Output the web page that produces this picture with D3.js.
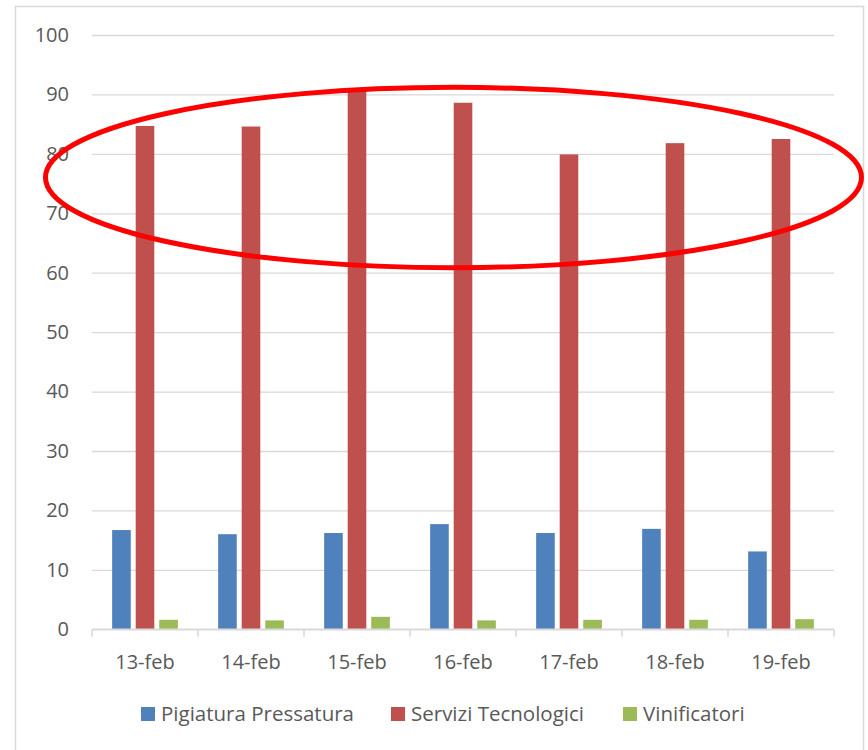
<!DOCTYPE html>
<html>
<head>
<meta charset="utf-8">
<script src="https://cdn.jsdelivr.net/npm/d3@7"></script>
<style>
  body { margin: 0; background: #fff; }
  text { font-family: "Open Sans", "Liberation Sans", sans-serif; fill: #595959; }
</style>
</head>
<body>
<svg id="chart"></svg>
<script>
// data
const dates = ["13-feb", "14-feb", "15-feb", "16-feb", "17-feb", "18-feb", "19-feb"];
const seriesNames = ["Pigiatura Pressatura", "Servizi Tecnologici", "Vinificatori"];
const pigiatura = [16.7, 16.0, 16.2, 17.7, 16.2, 16.9, 13.1];
const servizi = [84.7, 84.6, 90.7, 88.6, 79.9, 81.8, 82.5];
const vinificatori = [1.6, 1.5, 2.1, 1.5, 1.6, 1.6, 1.7];
const yTicks = [0, 10, 20, 30, 40, 50, 60, 70, 80, 90, 100];

const colors = ["#4f81bd", "#c0504d", "#9bbb59"];
const allSeries = [pigiatura, servizi, vinificatori];

const width = 868, height = 750;
const plotLeft = 92, plotRight = 834, plotTop = 35, plotBottom = 629.3;

const svg = d3.select("#chart")
    .attr("width", width)
    .attr("height", height);

// outer chart border
svg.append("rect")
    .attr("x", 15.5).attr("y", 6.5)
    .attr("width", 848).attr("height", 770)
    .attr("fill", "#fff")
    .attr("stroke", "#d9d9d9")
    .attr("stroke-width", 1.5);

const y = d3.scaleLinear().domain([0, 100]).range([plotBottom, plotTop]);

const x0 = d3.scaleBand().domain(dates).range([plotLeft, plotRight]);
const x1 = d3.scaleBand().domain(seriesNames)
    .range([20.15, x0.bandwidth() - 20.15])
    .paddingInner(0.21);

// gridlines + y labels
const yAxis = svg.append("g")
    .attr("transform", `translate(${plotLeft},0)`)
    .call(d3.axisLeft(y).tickValues(yTicks).tickSize(-(plotRight - plotLeft)).tickPadding(23));
yAxis.select(".domain").remove();
yAxis.selectAll("line").attr("stroke", "#d9d9d9").attr("stroke-width", 1.3);
yAxis.selectAll("text")
    .style("font-size", "20px")
    .attr("fill", "#595959");

// bars
const groups = svg.append("g").selectAll("g")
    .data(dates)
    .enter().append("g")
    .attr("transform", d => `translate(${x0(d)},0)`);

groups.selectAll("rect")
    .data((d, i) => seriesNames.map((s, k) => ({ s: s, v: allSeries[k][i], k: k })))
    .enter().append("rect")
    .attr("x", d => x1(d.s))
    .attr("width", x1.bandwidth())
    .attr("y", d => y(d.v))
    .attr("height", d => y(0) - y(d.v))
    .attr("fill", d => colors[d.k]);

// category axis
svg.append("line")
    .attr("x1", plotLeft).attr("x2", plotRight)
    .attr("y1", y(0)).attr("y2", y(0))
    .attr("stroke", "#d9d9d9").attr("stroke-width", 1.5);

const bounds = dates.map(d => x0(d)).concat([plotRight]);
svg.append("g").selectAll("line")
    .data(bounds)
    .enter().append("line")
    .attr("x1", d => d).attr("x2", d => d)
    .attr("y1", y(0)).attr("y2", y(0) + 7.5)
    .attr("stroke", "#d9d9d9").attr("stroke-width", 1.5);

svg.append("g").selectAll("text")
    .data(dates)
    .enter().append("text")
    .attr("x", d => x0(d) + x0.bandwidth() / 2)
    .attr("y", 668.5)
    .attr("text-anchor", "middle")
    .style("font-size", "20px")
    .text(d => d);

// legend (swatch positions taken from the reference layout)
const legendX = [141, 391, 623];
const items = svg.append("g").selectAll("g")
    .data(seriesNames)
    .enter().append("g")
    .attr("transform", (d, i) => `translate(${legendX[i]},0)`);
items.append("rect")
    .attr("width", 14).attr("height", 14)
    .attr("y", 707)
    .attr("fill", (d, i) => colors[i]);
items.append("text")
    .attr("x", 20)
    .attr("y", 721)
    .style("font-size", "20.5px")
    .text(d => d);

// red annotation ellipse
svg.append("ellipse")
    .attr("cx", 453.5).attr("cy", 177.5)
    .attr("rx", 408).attr("ry", 90.2)
    .attr("fill", "none")
    .attr("stroke", "#ff0000")
    .attr("stroke-width", 5);
</script>
</body>
</html>
